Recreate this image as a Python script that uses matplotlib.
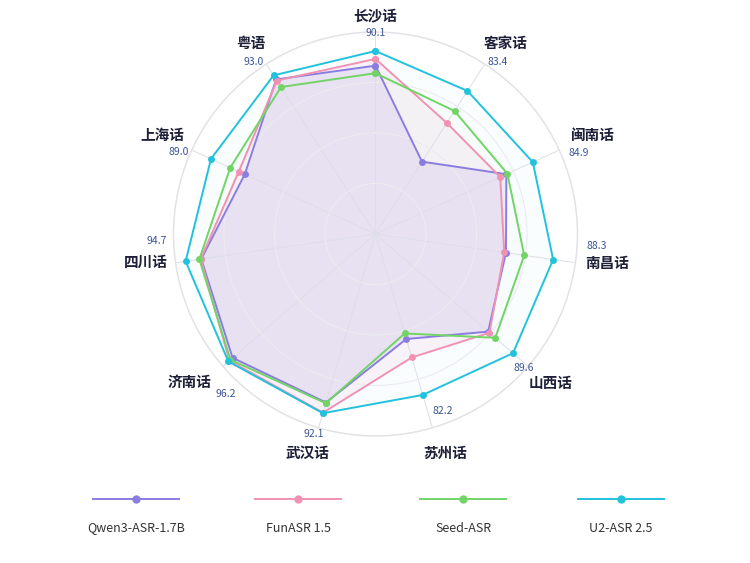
import numpy as np
import matplotlib.pyplot as plt
from matplotlib.lines import Line2D

plt.rcParams['font.family'] = ['Noto Sans CJK SC', 'DejaVu Sans']

# categories clockwise from the top
dialects = ['长沙话', '客家话', '闽南话', '南昌话', '山西话', '苏州话',
            '武汉话', '济南话', '四川话', '上海话', '粤语']

models = ['Qwen3-ASR-1.7B', 'FunASR 1.5', 'Seed-ASR', 'U2-ASR 2.5']
qwen = [82.5, 39.7, 69.8, 63.5, 72.5, 51.9, 86.3, 93.3, 86.5, 69.7, 90.5]
funasr = [86.0, 63.6, 66.3, 62.6, 73.4, 61.9, 91.8, 95.5, 86.8, 73.1, 89.8]
seed = [78.6, 71.0, 70.4, 73.1, 77.4, 48.9, 86.7, 94.8, 87.5, 78.0, 85.8]
u2 = [90.1, 83.4, 84.9, 88.3, 89.6, 82.2, 92.1, 96.2, 94.7, 89.0, 93.0]

colors = ['#8b7de0', '#f192b3', '#72d466', '#22c2dc']
fill_colors = ['#9686e6', '#f28cbf', '#8fdc8a', '#5fd4e8']
fill_alpha = [0.15, 0.09, 0.025, 0.035]

# label offsets from chart centre in pixels (x right, y up)
name_off = [(0, 219), (130, 191), (216, 99), (232, -29), (175, -149), (70, -219),
            (-68, -219), (-186, -148), (-230, -28), (-213, 99), (-125, 191)]
val_off = [(0, 201), (122, 172), (203, 81), (221, -12), (148, -134), (67, -177),
           (-62, -200), (-150, -160), (-219, -7), (-197, 82), (-122, 172)]

fig = plt.figure(figsize=(7.5, 5.63), dpi=100)
ax = fig.add_axes([0.2313, 0.2256, 0.5387, 0.7176], projection='polar')
ax.set_theta_offset(np.pi / 2)
ax.set_theta_direction(-1)
ax.set_ylim(-5, 100)
ax.set_axisbelow('line')  # grid over the area fills, under the lines

n = len(dialects)
theta = np.arange(n) * 2 * np.pi / n
ax.set_xticks(theta)
ax.set_xticklabels([])
ax.set_yticks([21.25, 47.5, 73.75, 100])
ax.set_yticklabels([])
ax.xaxis.grid(True, color='#dedee8', lw=0.7)
ax.yaxis.grid(True, color='#ebebf0', lw=0.8)
ax.spines['polar'].set_color('#e2e2e6')
ax.spines['polar'].set_linewidth(1.0)
ax.tick_params(length=0)

tc = np.append(theta, theta[0])
for vals, c, fc, a in zip([qwen, funasr, seed, u2], colors, fill_colors, fill_alpha):
    v = np.append(vals, vals[0])
    ax.fill(tc, v, color=fc, alpha=a, lw=0, zorder=1)
    ax.plot(tc, v, color=c, lw=1.4, marker='o', markersize=5, markeredgewidth=0, zorder=3)

for i in range(n):
    ax.annotate(dialects[i], xy=(0, -5), xytext=name_off[i], textcoords='offset pixels',
                ha='center', va='center', fontsize=10.5, fontweight='bold',
                color='#1d2038', annotation_clip=False)
    ax.annotate(f'{u2[i]:.1f}', xy=(0, -5), xytext=val_off[i], textcoords='offset pixels',
                ha='center', va='center', fontsize=7.5, color='#3a5598',
                annotation_clip=False)

# legend row along the bottom
lax = fig.add_axes([0, 0, 1, 1])
lax.set_xlim(0, 750)
lax.set_ylim(563, 0)
lax.axis('off')
leg_x = [136, 298, 463, 621]
for name, c, x in zip(models, colors, leg_x):
    lax.add_line(Line2D([x - 43, x + 43], [499, 499], color=c, lw=1.4))
    lax.plot([x], [499], 'o', color=c, markersize=6, markeredgewidth=0)
    lax.text(x, 528, name, ha='center', va='center', fontsize=9, color='#333333')

plt.savefig('out.png')
